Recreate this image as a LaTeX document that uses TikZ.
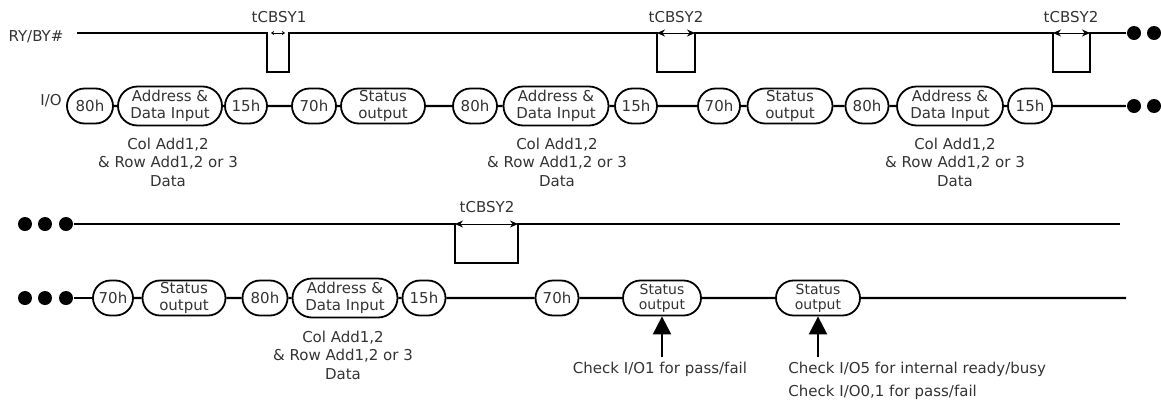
\documentclass[tikz,border=0pt]{standalone}
\usepackage{fontspec}
\setmainfont{DejaVu Sans}
\usetikzlibrary{shapes.misc,arrows.meta}

\begin{document}
\begin{tikzpicture}
  [x=1pt,y=-1pt,line width=2.2pt,
   every node/.style={font=\fontsize{15}{16.5}\selectfont,text=black!80},
   cyc/.style={rounded rectangle,draw=black,line width=1.8pt,inner sep=0pt,
     minimum height=35pt,align=center},
   big/.style={cyc,minimum height=39pt},
   dot/.style={circle,fill=black,inner sep=0pt,minimum size=14pt},
   sub/.style={align=center,font=\fontsize{15}{18.5}\selectfont},
   tim/.style={{Stealth[length=8pt,width=7pt]}-{Stealth[length=8pt,width=7pt]},line width=1pt},
   chk/.style={-{Triangle[width=18pt,length=18pt]},line width=2.2pt}]
  \useasboundingbox (0,0) rectangle (1161,402);

  % RY/BY# first line
  \node (ry) at (36,37) {RY/BY\#};
  \coordinate (ry0) at (77,33);
  \node[dot] (r1) at (1134,33) {};
  \node[dot] (r2) at (1154,33) {};
  \draw (ry0) -- (267,33) -- (267,72) -- (289,72) -- (289,33)
    -- (657,33) -- (657,72) -- (695,72) -- (695,33)
    -- (1053,33) -- (1053,72) -- (1090,72) -- (1090,33) -- (r1);
  \draw[{Stealth[length=3pt,width=4pt]}-{Stealth[length=3pt,width=4pt]},line width=0.6pt,
    shorten <=2pt,shorten >=2pt] (269,33) -- (287,33);
  \draw[tim] (657,33) -- (695,33);
  \draw[tim] (1053,33) -- (1090,33);
  \node (t1) at (279,17) {tCBSY1};
  \node (t2) at (676,17) {tCBSY2};
  \node (t3) at (1071,17) {tCBSY2};

  % I/O first line
  \node (io) at (51,101) {I/O};
  \node[cyc,minimum width=46pt]  (a80)  at (90,106)  {80h};
  \node[big,minimum width=104pt] (adi1) at (170,106) {Address \&\\Data Input};
  \node[cyc,minimum width=42pt]  (a15)  at (246,106) {15h};
  \node[cyc,minimum width=44pt]  (a70)  at (314,106) {70h};
  \node[cyc,minimum width=84pt]  (aso)  at (383,106) {Status\\output};
  \node[cyc,minimum width=44pt]  (b80)  at (475,106) {80h};
  \node[big,minimum width=105pt] (adi2) at (556,106) {Address \&\\Data Input};
  \node[cyc,minimum width=42pt]  (b15)  at (636,106) {15h};
  \node[cyc,minimum width=42pt]  (b70)  at (719,106) {70h};
  \node[cyc,minimum width=85pt]  (bso)  at (790,106) {Status\\output};
  \node[cyc,minimum width=43pt]  (c80)  at (867,106) {80h};
  \node[big,minimum width=106pt] (adi3) at (950,106) {Address \&\\Data Input};
  \node[cyc,minimum width=44pt]  (c15)  at (1030,106) {15h};
  \node[dot] (i1) at (1134,106) {};
  \node[dot] (i2) at (1154,106) {};

  \node[sub] (s1) at (168,162) {Col Add1,2\\\& Row Add1,2 or 3\\Data};
  \node[sub] (s2) at (557,162) {Col Add1,2\\\& Row Add1,2 or 3\\Data};
  \node[sub] (s3) at (955,162) {Col Add1,2\\\& Row Add1,2 or 3\\Data};

  % RY/BY# second line
  \node[dot] (q1) at (25,224) {};
  \node[dot] (q2) at (45,224) {};
  \node[dot] (q3) at (66,224) {};
  \coordinate (ry9) at (1120,224);
  \draw (q3) -- (455,224) -- (455,263) -- (518,263) -- (518,224) -- (ry9);
  \draw[tim] (455,224) -- (518,224);
  \node (t4) at (487,207) {tCBSY2};

  % I/O second line
  \node[dot] (p1) at (25,298) {};
  \node[dot] (p2) at (45,298) {};
  \node[dot] (p3) at (66,298) {};
  \node[cyc,minimum width=40pt]  (d70)  at (113,298) {70h};
  \node[cyc,minimum width=83pt]  (dso)  at (184,298) {Status\\output};
  \node[cyc,minimum width=45pt]  (d80)  at (265,298) {80h};
  \node[big,minimum width=105pt] (adi4) at (345,298) {Address \&\\Data Input};
  \node[cyc,minimum width=43pt]  (d15)  at (424,298) {15h};
  \node[cyc,minimum width=43pt]  (e70)  at (557,298) {70h};
  \node[cyc,minimum width=78pt,font=\fontsize{14}{15}\selectfont]  (eso)  at (662,298) {Status\\output};
  \node[cyc,minimum width=84pt,font=\fontsize{14}{15}\selectfont]  (fso)  at (818,298) {Status\\output};
  \coordinate (io9) at (1126,298);

  \node[sub] (s4) at (343,355) {Col Add1,2\\\& Row Add1,2 or 3\\Data};

  \node (k1) at (660,369) {Check I/O1 for pass/fail};
  \node[anchor=west] (k2) at (784,369) {Check I/O5 for internal ready/busy};
  \node[anchor=west] (k3) at (784,392) {Check I/O0,1 for pass/fail};

  \foreach \from/\to in {a80/adi1,adi1/a15,a15/a70,a70/aso,aso/b80,b80/adi2,
      adi2/b15,b15/b70,b70/bso,bso/c80,c80/adi3,adi3/c15,c15/i1,
      p3/d70,d70/dso,dso/d80,d80/adi4,adi4/d15,d15/e70,e70/eso,eso/fso,fso/io9}
    \draw (\from) -- (\to);

  \draw[chk] (k1.north -| eso.south) -- (eso.south);
  \draw[chk] (k2.north -| fso.south) -- (fso.south);

\end{tikzpicture}
\end{document}
